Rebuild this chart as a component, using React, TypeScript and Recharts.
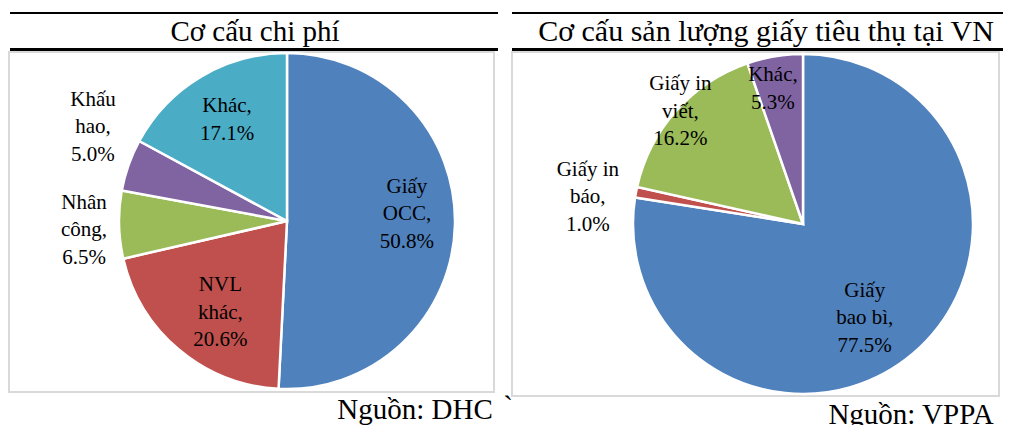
import { PieChart, Pie, Cell } from "recharts";

const costNames = ["Giấy OCC", "NVL khác", "Nhân công", "Khấu hao", "Khác"];
const costShares = [50.8, 20.6, 6.5, 5.0, 17.1];

const paperNames = ["Giấy bao bì", "Giấy in báo", "Giấy in viết", "Khác"];
const paperShares = [77.5, 1.0, 16.2, 5.3];

const costColors = ["#4F81BD", "#C0504D", "#9BBB59", "#8064A2", "#4BACC6"];
const paperColors = ["#4F81BD", "#C0504D", "#9BBB59", "#8064A2"];

// label radius (px from centre) plus small nudges, like excel's manual label placement
const costLabelPos = [
  { r: 120, dx: 0, dy: -11 },
  { r: 113, dx: 6, dy: 4 },
  { r: 203, dx: 0, dy: 4 },
  { r: 210, dx: 4, dy: -25 },
  { r: 119, dx: 1, dy: 0 },
];
const paperLabelPos = [
  { r: 112, dx: -11, dy: 8 },
  { r: 217, dx: -2, dy: 13 },
  { r: 167, dx: 2, dy: -2 },
  { r: 139, dx: -7, dy: 1 },
];

const serif = "Liberation Serif";

const costData = costNames.map((name, i) => ({ name, value: costShares[i] }));
const paperData = paperNames.map((name, i) => ({ name, value: paperShares[i] }));

function wrap(text: string, max = 7) {
  const lines: string[] = [];
  let cur = "";
  for (const w of text.split(" ")) {
    const next = cur ? cur + " " + w : w;
    if (next.length > max && cur) {
      lines.push(cur);
      cur = w;
    } else cur = next;
  }
  if (cur) lines.push(cur);
  return lines;
}

function makeLabel(pos: { r: number; dx: number; dy: number }[]) {
  return (props: any) => {
    const { cx, cy, midAngle, index, name, value } = props;
    const p = pos[index];
    const rad = (Math.PI / 180) * midAngle;
    const x = cx + p.r * Math.cos(rad) + p.dx;
    const y = cy - p.r * Math.sin(rad) + p.dy;
    const lines = wrap(name + ",");
    lines.push(value.toFixed(1) + "%");
    const lh = 27.5;
    const y0 = y - ((lines.length - 1) * lh) / 2;
    return (
      <g key={"lbl" + index}>
        {lines.map((l, k) => (
          <text
            key={k}
            x={x}
            y={y0 + k * lh}
            textAnchor="middle"
            dominantBaseline="central"
            fontFamily={serif}
            fontSize={21}
            fill="#000"
          >
            {l}
          </text>
        ))}
      </g>
    );
  };
}

const line = (left: number, top: number, width: number, h: number) => (
  <div
    style={{
      position: "absolute",
      left,
      top,
      width,
      height: h,
      background: "#000",
    }}
  />
);

const box = (left: number, top: number, width: number, height: number) => (
  <div
    style={{
      position: "absolute",
      left,
      top,
      width,
      height,
      boxSizing: "border-box",
      border: "2px solid #d9d9d9",
    }}
  />
);

const caption = (text: string, center: number, top: number, size = 29) => (
  <div
    style={{
      position: "absolute",
      left: center - 300,
      width: 600,
      top,
      textAlign: "center",
      fontFamily: serif,
      fontSize: size,
      lineHeight: "32px",
      whiteSpace: "nowrap",
      color: "#000",
    }}
  >
    {text}
  </div>
);

export default function App() {
  return (
    <div
      style={{
        position: "absolute",
        left: 0,
        top: 0,
        width: 1018,
        height: 425,
        background: "#fff",
        overflow: "hidden",
      }}
    >
      {line(10, 12, 488, 2)}
      {line(10, 48, 488, 3)}
      {caption("Cơ cấu chi phí", 255, 15)}
      {line(512, 12, 491, 2)}
      {line(512, 48, 491, 3)}
      {caption("Cơ cấu sản lượng giấy tiêu thụ tại VN", 766, 15, 30)}

      {box(8, 51, 487, 342)}
      <div style={{ position: "absolute", left: 8, top: 52 }}>
        <PieChart width={487} height={341} margin={{ top: 0, right: 0, bottom: 0, left: 0 }}>
          <Pie
            data={costData}
            dataKey="value"
            nameKey="name"
            cx={279}
            cy={169}
            outerRadius={168}
            startAngle={90}
            endAngle={-270}
            stroke="#fff"
            strokeWidth={2.5}
            label={makeLabel(costLabelPos)}
            labelLine={false}
            isAnimationActive={false}
          >
            {costData.map((d, i) => (
              <Cell key={d.name} fill={costColors[i]} />
            ))}
          </Pie>
        </PieChart>
      </div>

      {box(511, 51, 489, 346)}
      <div style={{ position: "absolute", left: 511, top: 52 }}>
        <PieChart width={489} height={345} margin={{ top: 0, right: 0, bottom: 0, left: 0 }}>
          <Pie
            data={paperData}
            dataKey="value"
            nameKey="name"
            cx={292}
            cy={172}
            outerRadius={170}
            startAngle={90}
            endAngle={-270}
            stroke="#fff"
            strokeWidth={2.5}
            label={makeLabel(paperLabelPos)}
            labelLine={false}
            isAnimationActive={false}
          >
            {paperData.map((d, i) => (
              <Cell key={d.name} fill={paperColors[i]} />
            ))}
          </Pie>
        </PieChart>
      </div>

      {caption("Nguồn: DHC", 415, 393)}
      {caption("`", 508, 390)}
      {caption("Nguồn: VPPA", 911, 398)}
    </div>
  );
}
